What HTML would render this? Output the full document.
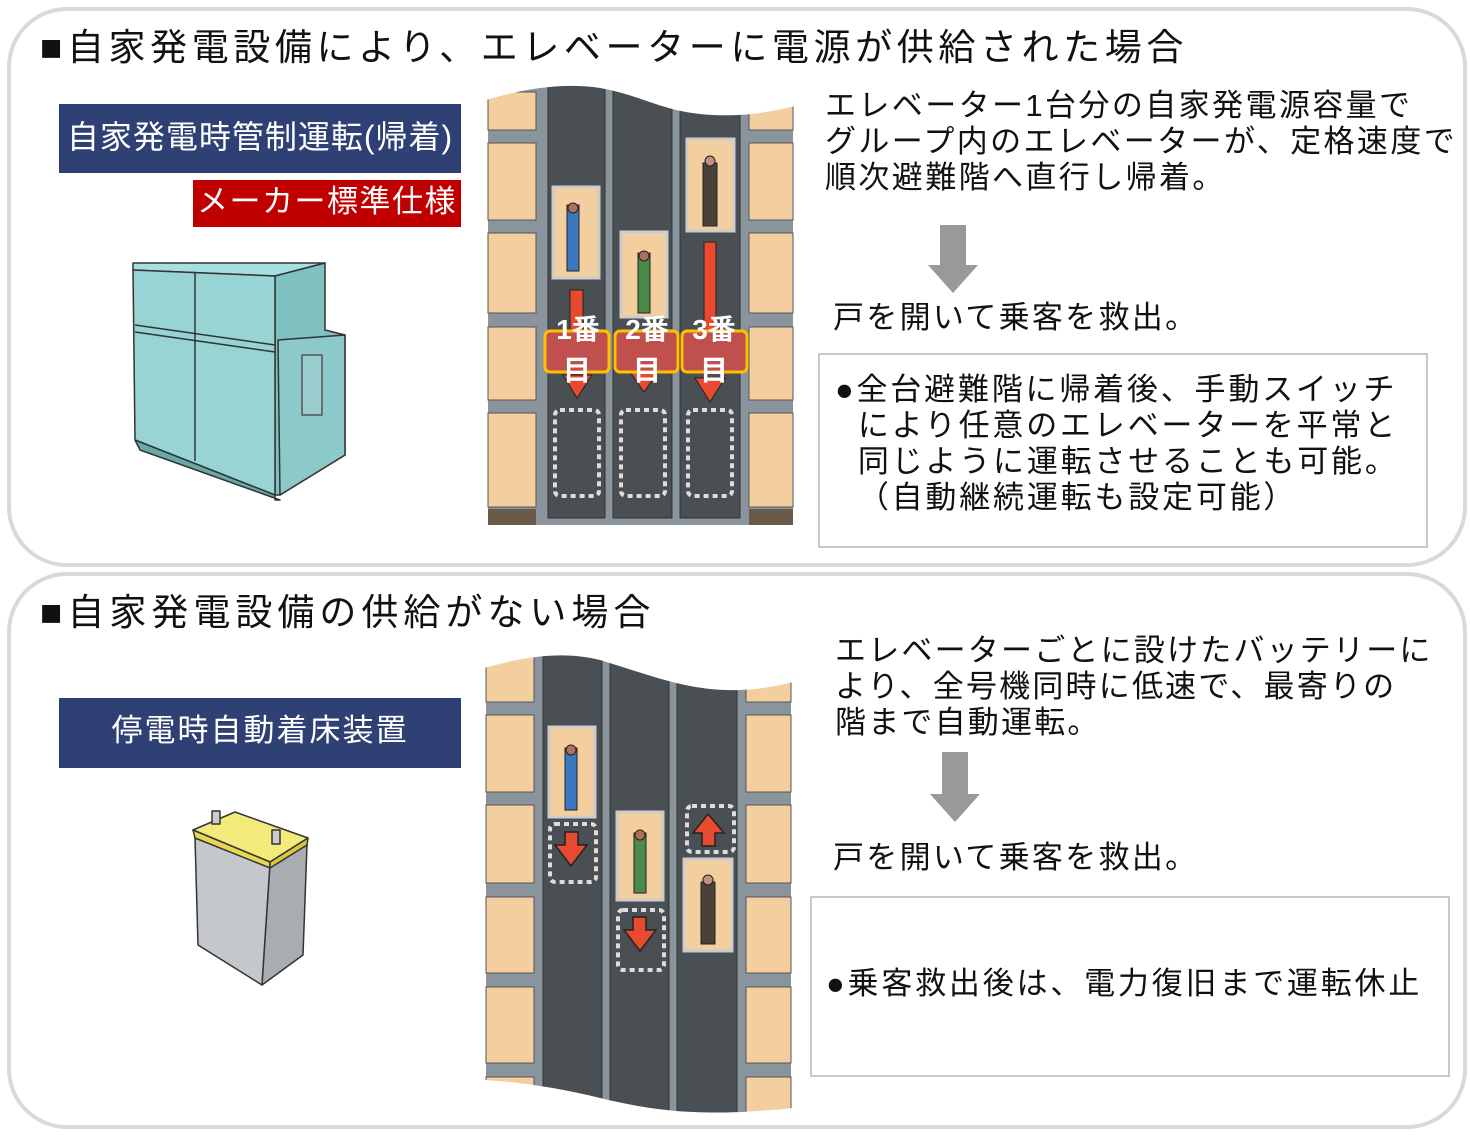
<!DOCTYPE html>
<html><head><meta charset="utf-8"><style>
body{margin:0;width:1470px;height:1135px;background:#fff;position:relative;overflow:hidden;font-family:"Liberation Sans","Noto Sans CJK JP",sans-serif;color:#111}
.t{position:absolute;white-space:nowrap}
.panel{position:absolute;border:4px solid #d9d9d9;border-radius:60px;box-sizing:border-box}
.bx{position:absolute;color:#fff;text-align:center;white-space:nowrap}
</style></head><body>
<div class="panel" style="left:7px;top:7px;width:1460px;height:560px"></div>
<div class="panel" style="left:7px;top:572px;width:1460px;height:557px"></div>

<div class="t" style="left:40px;top:17px;font-size:37px;letter-spacing:4.6px">■自家発電設備により、エレベーターに電源が供給された場合</div>
<div class="bx" style="left:59px;top:104px;width:402px;height:69px;background:#2f4074;font-size:32px;line-height:66px;letter-spacing:1px">自家発電時管制運転(帰着)</div>
<div class="bx" style="left:193px;top:180px;width:268px;height:47px;background:#c00000;font-size:31px;line-height:44px;letter-spacing:1.5px">メーカー標準仕様</div>

<div class="t" style="left:825px;top:88px;font-size:31px;line-height:36px;letter-spacing:2.4px">エレベーター1台分の自家発電源容量で<br>グループ内のエレベーターが、定格速度で<br>順次避難階へ直行し帰着。</div>
<div class="t" style="left:833px;top:292px;font-size:31px;letter-spacing:2.3px">戸を開いて乗客を救出。</div>
<div style="position:absolute;left:818px;top:353px;width:610px;height:195px;border:2px solid #c8c8c8;box-sizing:border-box"></div>
<div class="t" style="left:835px;top:372px;font-size:31px;line-height:36px;letter-spacing:2.8px">●全台避難階に帰着後、手動スイッチ<br>&nbsp;&nbsp;により任意のエレベーターを平常と<br>&nbsp;&nbsp;同じように運転させることも可能。<br>&nbsp;&nbsp;（自動継続運転も設定可能）</div>

<div class="t" style="left:40px;top:582px;font-size:37px;letter-spacing:5px">■自家発電設備の供給がない場合</div>
<div class="bx" style="left:59px;top:698px;width:402px;height:70px;background:#2f4074;font-size:31px;line-height:66px;letter-spacing:2px">停電時自動着床装置</div>
<div class="t" style="left:835px;top:633px;font-size:31px;line-height:36px;letter-spacing:2.2px">エレベーターごとに設けたバッテリーに<br>より、全号機同時に低速で、最寄りの<br>階まで自動運転。</div>
<div class="t" style="left:833px;top:832px;font-size:31px;letter-spacing:2.3px">戸を開いて乗客を救出。</div>
<div style="position:absolute;left:810px;top:896px;width:640px;height:181px;border:2px solid #c8c8c8;box-sizing:border-box"></div>
<div class="t" style="left:826px;top:958px;font-size:31px;letter-spacing:2.8px">●乗客救出後は、電力復旧まで運転休止</div>

<svg style="position:absolute;left:0;top:0" width="1470" height="1135">
<polygon points="940,225 966,225 966,265 978,265 953,293 928,265 940,265" fill="#999"/>
<polygon points="942,752 968,752 968,794 980,794 955,822 930,794 942,794" fill="#999"/>

<g>
<rect x="488" y="85" width="305" height="440" fill="#8a949c"/>
<g fill="#f3cf9f" stroke="#555" stroke-width="1">
<rect x="488" y="92" width="48" height="38"/><rect x="488" y="143" width="48" height="77"/><rect x="488" y="233" width="48" height="80"/><rect x="488" y="327" width="48" height="73"/><rect x="488" y="413" width="48" height="94"/>
<rect x="749" y="92" width="44" height="38"/><rect x="749" y="143" width="44" height="77"/><rect x="749" y="233" width="44" height="80"/><rect x="749" y="327" width="44" height="73"/><rect x="749" y="413" width="44" height="94"/>
</g>
<rect x="488" y="509" width="48" height="16" fill="#6b5a4a"/><rect x="749" y="509" width="44" height="16" fill="#6b5a4a"/>
<g fill="#4a4f54" stroke="#333"><rect x="548" y="85" width="57" height="433"/><rect x="613" y="85" width="59" height="433"/><rect x="680" y="85" width="60" height="433"/></g>
<path d="M486,80 L486,100 C520,90 560,82 600,88 C640,95 660,110 700,114 C740,118 770,112 795,106 L795,80 Z" fill="#fff"/>
<g fill="#f3cf9f" stroke="#ccc" stroke-width="3"><rect x="553" y="187" width="46" height="91"/><rect x="621" y="232" width="46" height="85"/><rect x="687" y="139" width="47" height="92"/></g>
<g stroke="#222" stroke-width="1"><rect x="567" y="205" width="12" height="66" fill="#3a78c0"/><circle cx="573" cy="208" r="5" fill="#b07060"/>
<rect x="638" y="253" width="12" height="60" fill="#4c8a4c"/><circle cx="644" cy="256" r="5" fill="#b07060"/>
<rect x="703" y="163" width="14" height="63" fill="#4a4238"/><circle cx="710" cy="161" r="5" fill="#c09080"/></g>
<g fill="#e84a30" stroke="#222"><rect x="570" y="290" width="13" height="60"/><polygon points="563,375 592,375 577,398"/>
<rect x="704" y="242" width="12" height="110"/><polygon points="695,378 725,378 710,402"/><polygon points="630,372 658,372 644,392"/></g>
<g fill="#c0504d" stroke="#ffc000" stroke-width="3"><rect x="545" y="331" width="64" height="41" rx="5"/><rect x="615" y="331" width="63" height="41" rx="5"/><rect x="682" y="331" width="65" height="41" rx="5"/></g>
<g fill="#fff" font-weight="bold" font-size="28" text-anchor="middle" font-family="Liberation Sans,Noto Sans CJK JP,sans-serif">
<text x="578" y="339">1番</text><text x="647" y="339">2番</text><text x="714" y="339">3番</text>
<text x="577" y="380">目</text><text x="647" y="380">目</text><text x="714" y="380">目</text></g>
<g fill="none" stroke="#ddd" stroke-width="4" stroke-dasharray="5,4"><rect x="555" y="410" width="44" height="86" rx="5"/><rect x="621" y="410" width="44" height="86" rx="5"/><rect x="688" y="410" width="44" height="86" rx="5"/></g>
</g>

<g>
<rect x="486" y="655" width="305" height="460" fill="#8a949c"/>
<g fill="#f3cf9f" stroke="#555" stroke-width="1">
<rect x="486" y="655" width="48" height="47"/><rect x="486" y="715" width="48" height="77"/><rect x="486" y="805" width="48" height="78"/><rect x="486" y="897" width="48" height="76"/><rect x="486" y="987" width="48" height="76"/><rect x="486" y="1077" width="48" height="40"/>
<rect x="746" y="655" width="45" height="47"/><rect x="746" y="715" width="45" height="77"/><rect x="746" y="805" width="45" height="78"/><rect x="746" y="897" width="45" height="76"/><rect x="746" y="987" width="45" height="76"/><rect x="746" y="1077" width="45" height="40"/>
</g>
<g fill="#4a4f54" stroke="#333"><rect x="543" y="650" width="59" height="470"/><rect x="610" y="650" width="59" height="470"/><rect x="677" y="650" width="60" height="470"/></g>
<path d="M484,645 L484,668 C520,658 560,650 600,660 C650,675 690,692 740,690 C765,689 780,685 793,682 L793,645 Z" fill="#fff"/>
<path d="M484,1080 C520,1082 560,1088 600,1098 C650,1110 700,1118 793,1108 L793,1121 L484,1121 Z" fill="#fff"/>
<g fill="#f3cf9f" stroke="#ccc" stroke-width="3"><rect x="549" y="727" width="46" height="90"/><rect x="617" y="812" width="46" height="88"/><rect x="684" y="859" width="48" height="92"/></g>
<g stroke="#222" stroke-width="1"><rect x="565" y="748" width="12" height="62" fill="#3a78c0"/><circle cx="571" cy="750" r="5" fill="#b07060"/>
<rect x="634" y="833" width="12" height="60" fill="#4c8a4c"/><circle cx="640" cy="835" r="5" fill="#b07060"/>
<rect x="701" y="882" width="14" height="62" fill="#4a4238"/><circle cx="708" cy="880" r="5" fill="#c09080"/></g>
<g fill="none" stroke="#ddd" stroke-width="4" stroke-dasharray="5,4"><rect x="550" y="824" width="46" height="58" rx="5"/><rect x="618" y="910" width="46" height="60" rx="5"/><rect x="687" y="806" width="47" height="46" rx="5"/></g>
<g fill="#e84a30" stroke="#222" stroke-width="1.5">
<polygon points="565,832 578,832 578,845 587,845 571,866 555,845 565,845"/>
<polygon points="633,917 646,917 646,930 656,930 640,951 624,930 633,930"/>
<polygon points="708,814 724,833 715,833 715,846 702,846 702,833 693,833"/></g>
</g>

<g stroke="#333" stroke-width="1.5" stroke-linejoin="round">
<polygon points="133,263 325,263 275,276 133,270" fill="#a8dede"/>
<polygon points="275,276 325,263 325,330 345,335 345,455 280,495 275,495" fill="#7fc0c0"/>
<polygon points="133,270 275,276 275,495 135,440" fill="#98d4d4"/>
<polygon points="135,440 275,495 275,500 280,500 140,450" fill="#6aa"/>
<polygon points="278,340 345,335 345,455 280,495" fill="#8ccaca"/>
<rect x="302" y="355" width="20" height="60" fill="#9cc" stroke="#555"/>
<line x1="135" y1="325" x2="275" y2="345"/><line x1="135" y1="332" x2="275" y2="352"/>
<line x1="195" y1="272" x2="195" y2="461"/>
</g>
<g stroke="#333" stroke-width="1.5" stroke-linejoin="round">
<polygon points="195,838 270,865 262,985 198,945" fill="#c4c8cc"/>
<polygon points="270,865 307,845 303,955 262,985" fill="#a9adb2"/>
<polygon points="193,830 235,812 308,838 270,862" fill="#f2ea7a"/>
<polygon points="193,830 270,862 270,868 195,838" fill="#e8d850"/>
<polygon points="270,862 308,838 307,845 270,868" fill="#d8c840"/>
<rect x="212" y="811" width="8" height="13" fill="#ccc"/><rect x="272" y="830" width="8" height="14" fill="#ccc"/>
</g>
</svg>
</body></html>
